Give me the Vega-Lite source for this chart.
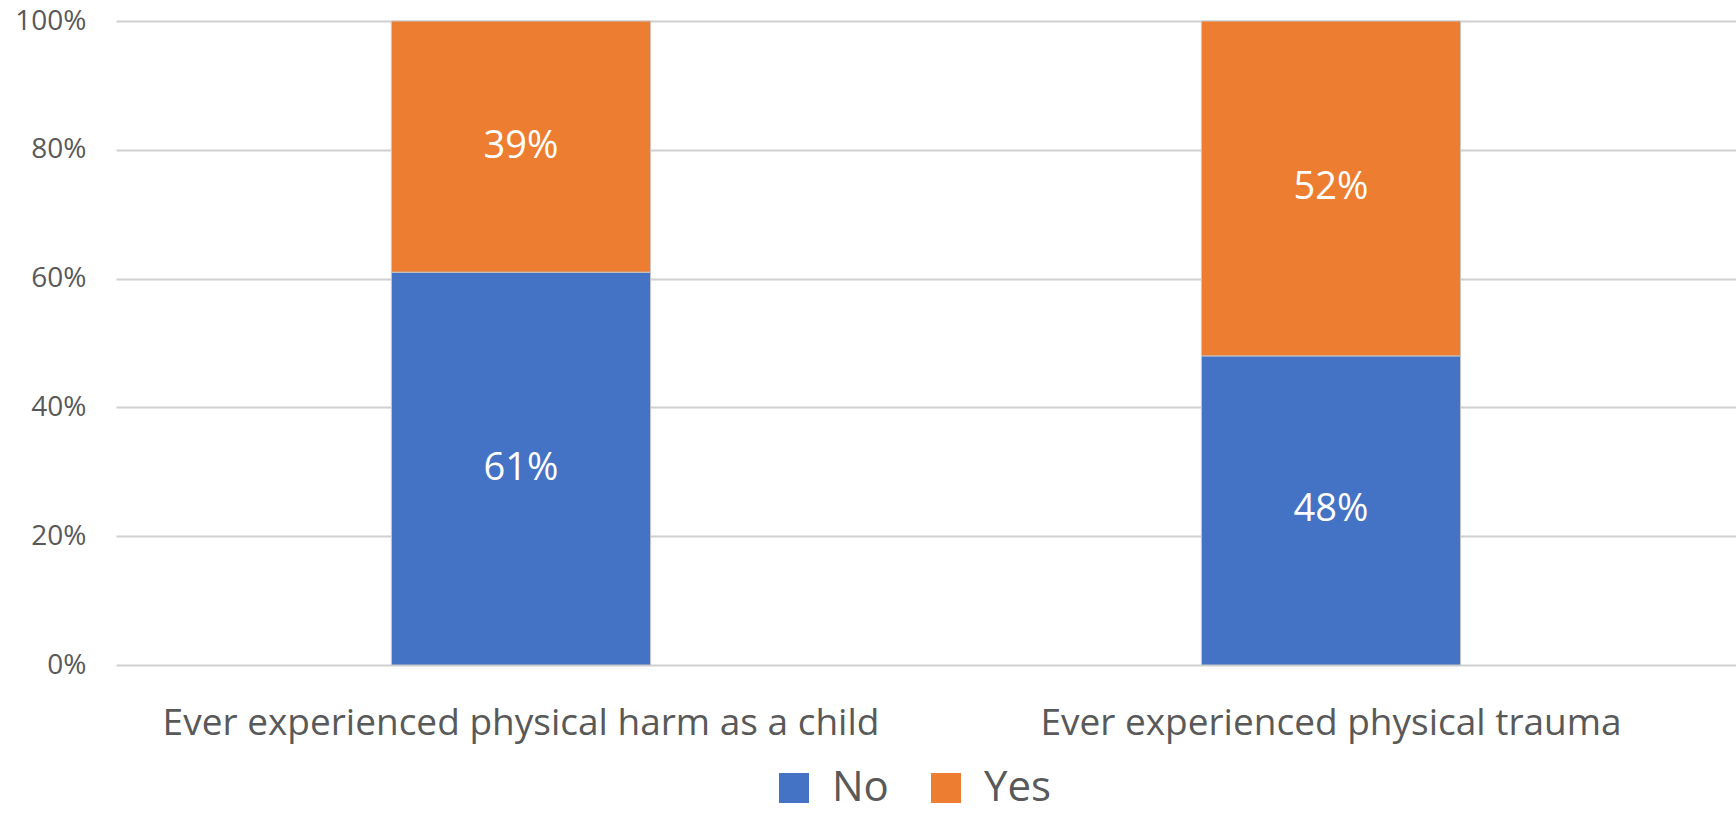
{
  "$schema": "https://vega.github.io/schema/vega-lite/v6.json",
  "autosize": "none",
  "width": 1620,
  "height": 644,
  "padding": {"left": 116, "top": 21, "right": 0, "bottom": 158},
  "background": "white",
  "config": {
    "view": {"stroke": null},
    "font": "Open Sans"
  },
  "data": {
    "values": [
      {"category": "Ever experienced physical harm as a child", "answer": "No", "value": 0.61},
      {"category": "Ever experienced physical harm as a child", "answer": "Yes", "value": 0.39},
      {"category": "Ever experienced physical trauma", "answer": "No", "value": 0.48},
      {"category": "Ever experienced physical trauma", "answer": "Yes", "value": 0.52}
    ]
  },
  "transform": [
    {"stack": "value", "groupby": ["category"], "sort": [{"field": "answer", "order": "ascending"}], "as": ["v0", "v1"]},
    {"calculate": "(datum.v0 + datum.v1) / 2", "as": "mid"}
  ],
  "encoding": {
    "x": {
      "field": "category",
      "type": "nominal",
      "sort": null,
      "scale": {"paddingInner": 0.68, "paddingOuter": 0.34},
      "axis": {
        "title": null,
        "labelAngle": 0,
        "labelFontSize": 37,
        "labelColor": "#595959",
        "labelPadding": 40,
        "ticks": false,
        "domain": false,
        "labelLimit": 1000
      }
    }
  },
  "layer": [
    {
      "mark": {"type": "bar", "stroke": "#C8C8C8", "strokeWidth": 1},
      "encoding": {
        "y": {
          "field": "v0",
          "type": "quantitative",
          "scale": {"domain": [0, 1]},
          "axis": {
            "title": null,
            "format": ".0%",
            "tickCount": 5,
            "labelFontSize": 28,
            "labelColor": "#595959",
            "labelPadding": 30,
            "ticks": false,
            "domain": false,
            "gridColor": "#D0D0D0",
            "gridWidth": 2
          }
        },
        "y2": {"field": "v1"},
        "color": {
          "field": "answer",
          "type": "nominal",
          "scale": {"domain": ["No", "Yes"], "range": ["#4472C4", "#ED7D31"]},
          "legend": {
            "title": null,
            "orient": "none",
            "direction": "horizontal",
            "legendX": 657,
            "legendY": 746,
            "padding": 0,
            "symbolType": "square",
            "symbolSize": 900,
            "symbolStrokeWidth": 0,
            "labelFontSize": 42,
            "labelColor": "#595959",
            "labelOffset": 17,
            "columnPadding": 36
          }
        }
      }
    },
    {
      "mark": {"type": "text", "color": "white", "fontSize": 38, "baseline": "middle"},
      "encoding": {
        "y": {"field": "mid", "type": "quantitative"},
        "text": {"field": "value", "type": "quantitative", "format": ".0%"}
      }
    }
  ]
}
